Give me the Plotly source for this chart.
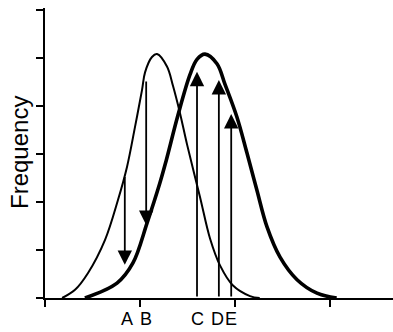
import plotly.graph_objects as go

# Thin curve (readings from picture)
thin_x = [0.18, 0.316, 0.453, 0.632, 0.768, 0.863, 0.947, 1.021, 1.053, 1.126, 1.179, 1.284, 1.347, 1.421, 1.495, 1.632, 1.737, 1.842, 1.979, 2.158, 2.26]
thin_y = [0.0, 0.17, 0.52, 1.21, 2.04, 2.73, 3.56, 4.33, 4.70, 5.02, 5.08, 4.82, 4.42, 3.85, 3.2, 2.1, 1.24, 0.68, 0.26, 0.04, 0.0]

# Thick curve (readings from picture)
thick_x = [0.42, 0.758, 0.926, 1.074, 1.21, 1.274, 1.40, 1.526, 1.60, 1.684, 1.81, 1.895, 2.02, 2.126, 2.23, 2.337, 2.474, 2.653, 2.863, 3.07]
thick_y = [0.0, 0.31, 0.73, 1.56, 2.40, 2.85, 3.81, 4.65, 4.97, 5.08, 4.88, 4.45, 3.77, 3.02, 2.25, 1.48, 0.85, 0.38, 0.10, 0.0]

# Arrows: label, x, start y, end y
arrow_labels = ["A", "B", "C", "D", "E"]
arrow_x = [0.84, 1.065, 1.60, 1.83, 1.96]
arrow_from = [2.55, 4.54, 0.0, 0.0, 0.0]
arrow_to = [0.69, 1.52, 4.71, 4.54, 3.83]

# Letter label positions along x
label_x = [0.868, 1.068, 1.61, 1.816, 1.963]

xticks = [0, 1, 2, 3]
yticks = [0, 1, 2, 3, 4, 5, 6]

fig = go.Figure()
fig.add_trace(go.Scatter(x=thin_x, y=thin_y, mode="lines",
                         line=dict(color="black", width=2, shape="spline", smoothing=1.0),
                         showlegend=False, hoverinfo="skip"))
fig.add_trace(go.Scatter(x=thick_x, y=thick_y, mode="lines",
                         line=dict(color="black", width=3.6, shape="spline", smoothing=1.0),
                         showlegend=False, hoverinfo="skip"))

for xa, y0, y1 in zip(arrow_x, arrow_from, arrow_to):
    fig.add_annotation(x=xa, y=y1, ax=xa, ay=y0, xref="x", yref="y", axref="x", ayref="y",
                       showarrow=True, arrowhead=2, arrowsize=1.6, arrowwidth=1.8,
                       arrowcolor="black", text="", standoff=0)

for lab, lx in zip(arrow_labels, label_x):
    fig.add_annotation(x=lx, y=-0.0707, xref="x", yref="paper", text=lab, showarrow=False,
                       font=dict(family="Liberation Sans, Arial", size=18, color="black"),
                       xanchor="center", yanchor="middle")

fig.add_annotation(x=-0.0747, y=3.02, xref="paper", yref="y", text="Frequency",
                   textangle=-90, showarrow=False,
                   font=dict(family="Liberation Sans, Arial", size=24, color="black"),
                   xanchor="center", yanchor="middle")

fig.update_xaxes(range=[0, 3.663], tickvals=xticks, showticklabels=False, ticks="outside",
                 ticklen=7, tickwidth=2, tickcolor="black", showline=True, linewidth=2,
                 linecolor="black", showgrid=False, zeroline=False)
fig.update_yaxes(range=[0, 6.04], tickvals=yticks, showticklabels=False, ticks="outside",
                 ticklen=7, tickwidth=2, tickcolor="black", showline=True, linewidth=2,
                 linecolor="black", showgrid=False, zeroline=False)

fig.update_layout(width=393, height=332, margin=dict(l=45, r=0, t=8, b=34),
                  plot_bgcolor="white", paper_bgcolor="white")

fig.write_html("out.html", config={"displayModeBar": False},
               post_script="document.body.style.margin='0';")
